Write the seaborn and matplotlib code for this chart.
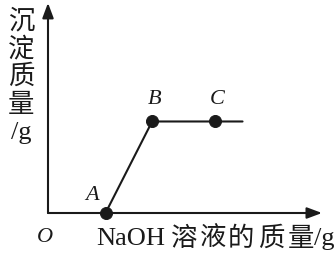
import matplotlib
matplotlib.use("Agg")
import matplotlib.pyplot as plt
import seaborn as sns
import pandas as pd

# data (arbitrary units)
point_labels = ["A", "B", "C"]
point_x = [2.1, 3.8, 6.1]
point_y = [0.0, 4.4, 4.4]
line_x = [2.1, 3.8, 6.1, 7.1]
line_y = [0.0, 4.4, 4.4, 4.4]
x_label_parts = ["NaOH", "溶", "液", "的", "质", "量", "/g"]
y_label_parts = ["沉", "淀", "质", "量", "/g"]

sns.set_theme(style="white")
plt.rcParams['font.family'] = ['Liberation Serif', 'Noto Sans CJK SC', 'DejaVu Sans']

W, H = 335, 257
fig = plt.figure(figsize=(W / 100, H / 100), dpi=100)
ax = fig.add_axes([48 / W, (H - 213) / H, 274 / W, 208 / H])
ax.set_xlim(0, 10)
ax.set_ylim(0, 10)

col = "#1a1a1a"
line_df = pd.DataFrame({"x": line_x, "y": line_y})
pts_df = pd.DataFrame({"x": point_x, "y": point_y, "label": point_labels})
sns.lineplot(data=line_df, x="x", y="y", ax=ax, color=col, linewidth=1.5,
             sort=False, estimator=None, clip_on=False)
sns.scatterplot(data=pts_df, x="x", y="y", ax=ax, color=col, s=75,
                edgecolor=col, zorder=5, clip_on=False)

for s in ax.spines.values():
    s.set_visible(False)
ax.set_xticks([])
ax.set_yticks([])
ax.set_xlabel("")
ax.set_ylabel("")

# axes with arrows
arrow = dict(arrowstyle="-|>,head_length=0.75,head_width=0.28",
             color=col, lw=1.5, shrinkA=0, shrinkB=0)
ax.annotate("", xy=(1, 0), xytext=(0, 0), xycoords="axes fraction",
            arrowprops=arrow)
ax.annotate("", xy=(0, 1.01), xytext=(0, 0), xycoords="axes fraction",
            arrowprops=arrow)

# point labels
offsets = {"A": (-14, 17), "B": (2, 22), "C": (2, 22)}
for lab, x, y in zip(point_labels, point_x, point_y):
    dx, dy = offsets[lab]
    ax.annotate(lab, xy=(x, y), xytext=(dx, dy), textcoords="offset pixels",
                ha="center", va="center", fontsize=16, fontstyle="italic",
                color=col)

fig.text(45 / W, 1 - 237 / H, "O", ha="center", va="center", fontsize=16,
         fontstyle="italic", color=col)

# x-axis title, laid out with the wide spacing of the original
x_centres = [131, 184, 213, 241, 271, 301, 324]
for txt, cx in zip(x_label_parts, x_centres):
    fig.text(cx / W, 1 - 239 / H, txt, ha="center", va="center",
             fontsize=19, color=col)

# y-axis title, stacked vertically
y_centres = [21, 49, 77, 105, 133]
for txt, cy in zip(y_label_parts, y_centres):
    fig.text(21 / W, 1 - cy / H, txt, ha="center", va="center",
             fontsize=19, color=col)

fig.savefig("out.png", dpi=100, facecolor="white")
